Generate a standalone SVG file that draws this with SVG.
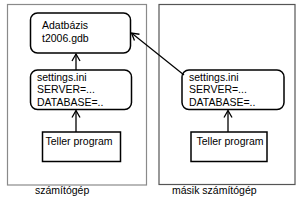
<svg xmlns="http://www.w3.org/2000/svg" width="300" height="205" viewBox="0 0 300 205">
<style>
.frame{fill:none;stroke-width:1.2}
.node{fill:#fff;stroke:#000;stroke-width:1.5}
.t{font-family:"Liberation Sans",Arial,sans-serif;font-size:10.5px;fill:#000}
.c{fill:none;stroke:#000;stroke-width:1.3}
</style>
<defs>
<marker id="ah" markerWidth="10" markerHeight="10" refX="8" refY="5" orient="auto" markerUnits="userSpaceOnUse">
<path d="M1,1 L8,5 L1,9" fill="none" stroke="#000" stroke-width="1.3"/>
</marker>
</defs>
<rect x="0" y="0" width="300" height="205" fill="#fff"/>
<g id="szamitogep">
<rect class="frame" x="7.5" y="4.5" width="139" height="180.5" stroke="#8a8a8a"/>
<text class="t" x="35" y="194">számítógép</text>
</g>
<g id="masik-szamitogep">
<rect class="frame" x="159" y="4.5" width="136" height="180" stroke="#555"/>
<text class="t" x="172" y="194">másik számítógép</text>
</g>
<g id="adatbazis">
<rect class="node" x="30.5" y="13" width="100" height="40" rx="7"/>
<text class="t" x="42" y="29">Adatbázis</text>
<text class="t" x="42" y="42">t2006.gdb</text>
</g>
<g id="settings-left">
<rect class="node" x="30.5" y="70" width="101" height="39.5" rx="7"/>
<text class="t" x="37" y="80.5">settings.ini</text>
<text class="t" x="37" y="93">SERVER=...</text>
<text class="t" x="37" y="105.5">DATABASE=..</text>
</g>
<g id="teller-left">
<rect class="node" x="42.5" y="132" width="78" height="29.5"/>
<text class="t" x="45.5" y="145">Teller program</text>
</g>
<g id="settings-right">
<rect class="node" x="182" y="70" width="102" height="39.5" rx="7"/>
<text class="t" x="189" y="80.5">settings.ini</text>
<text class="t" x="189" y="93">SERVER=...</text>
<text class="t" x="189" y="105.5">DATABASE=..</text>
</g>
<g id="teller-right">
<rect class="node" x="191" y="132" width="76" height="29.5"/>
<text class="t" x="196.5" y="145">Teller program</text>
</g>
<g id="connectors">
<line class="c" x1="76" y1="70" x2="76" y2="54" marker-end="url(#ah)"/>
<line class="c" x1="76" y1="132" x2="76" y2="110.5" marker-end="url(#ah)"/>
<line class="c" x1="228" y1="132" x2="228" y2="110.5" marker-end="url(#ah)"/>
<line class="c" x1="184" y1="75" x2="131.5" y2="33" marker-end="url(#ah)"/>
</g>
</svg>
